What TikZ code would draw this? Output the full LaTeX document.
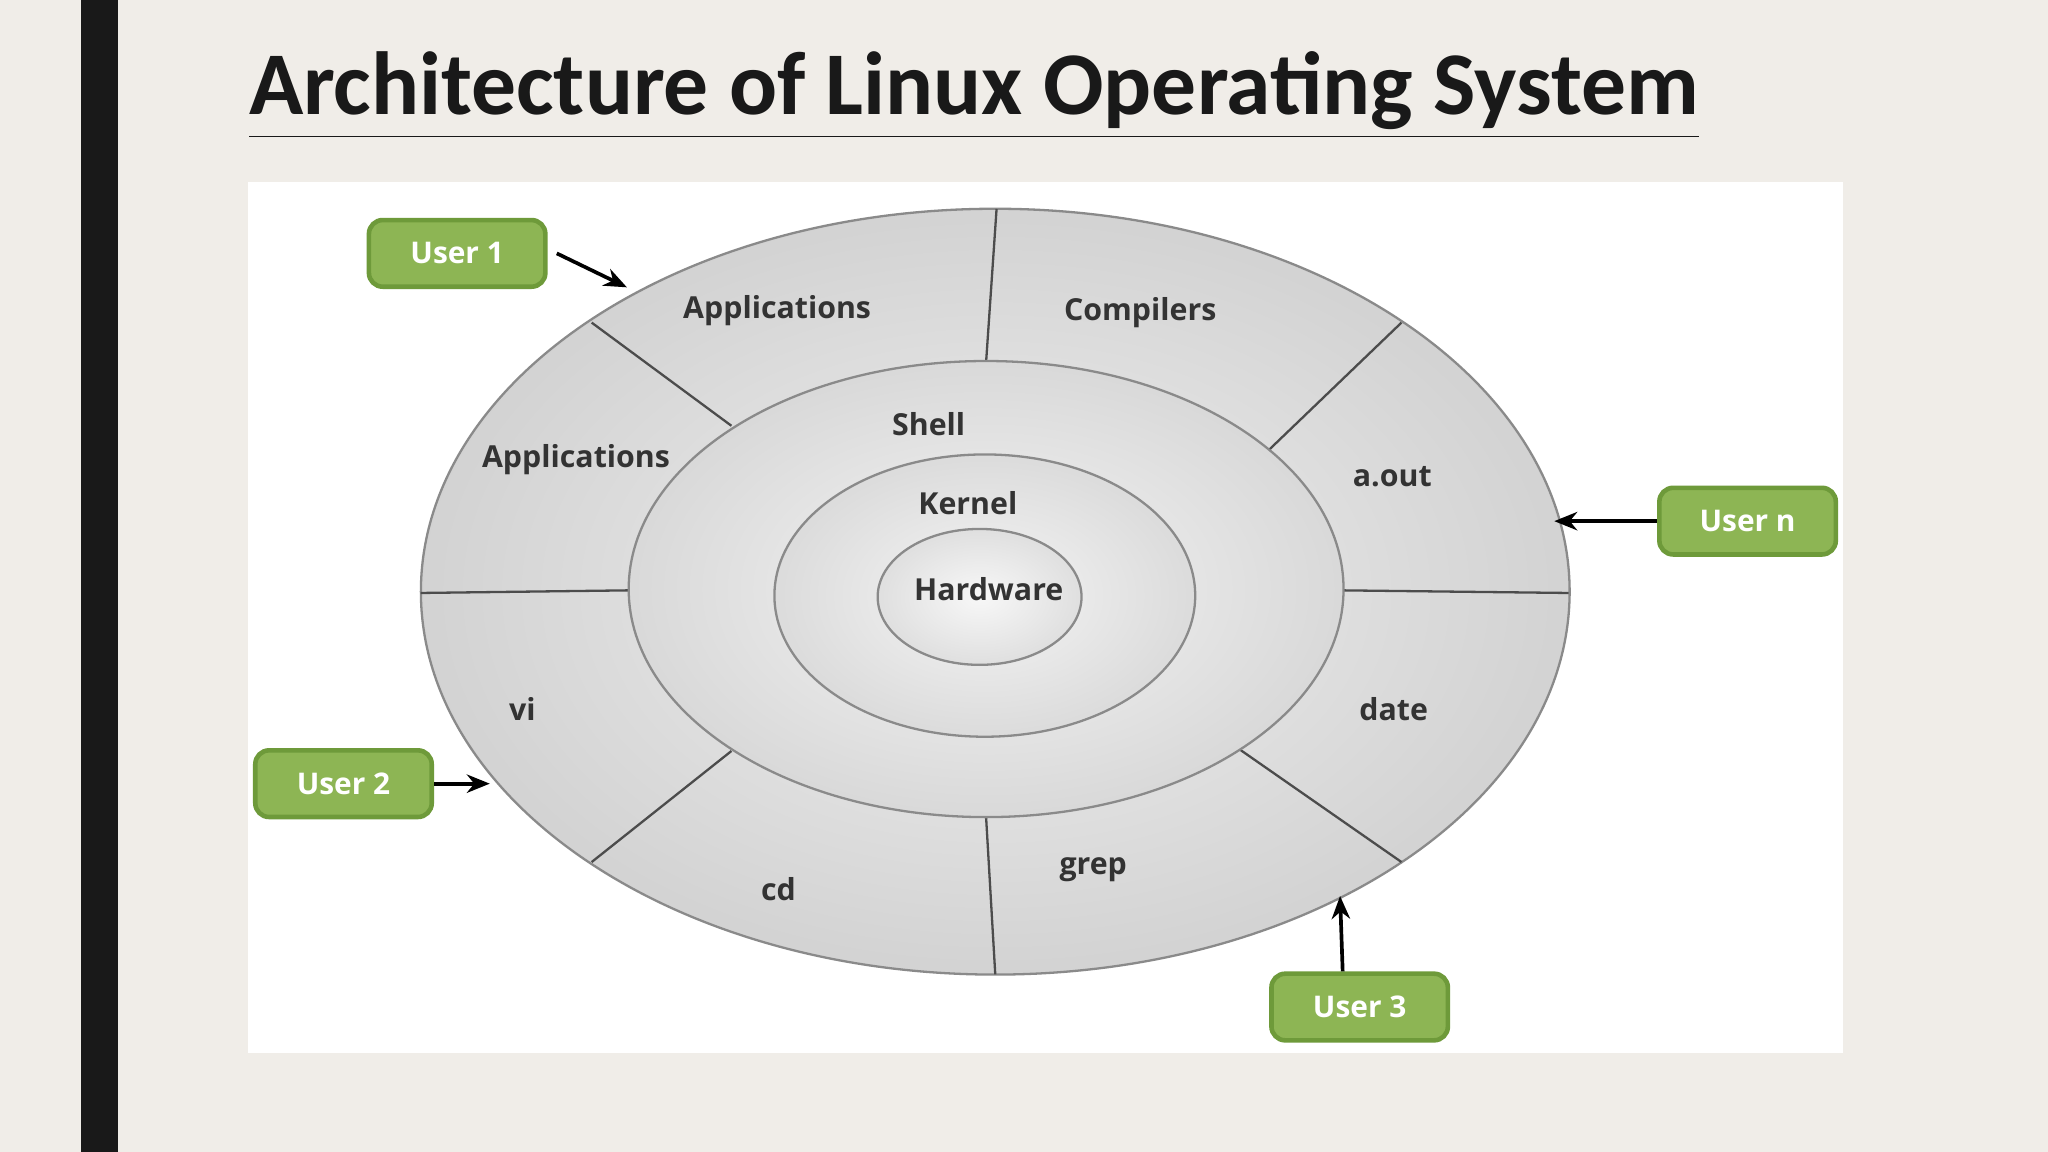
\documentclass[tikz,border=0pt]{standalone}
\usepackage{fontspec}
\setmainfont{Open Sans}
\newfontfamily\titlefont{Carlito}
\usetikzlibrary{shapes.geometric,arrows.meta}
\definecolor{bgc}{HTML}{F0EDE8}
\definecolor{ugreen}{HTML}{8DB554}
\definecolor{ugreenb}{HTML}{6E9A3A}
\definecolor{ringline}{HTML}{8A8A8A}
\tikzset{
  ring/.style={ellipse,draw=ringline,line width=0.5pt,inner sep=0pt},
  lab/.style={font=\fontsize{6.6}{8}\selectfont\bfseries,text=black!80},
  user/.style={rounded corners=3pt,fill=ugreen,draw=ugreenb,line width=1pt,text=white,font=\fontsize{6.5}{8}\selectfont\bfseries,minimum width=1.35cm,minimum height=0.51cm},
  uarr/.style={-{Stealth[length=5pt,width=4pt]},line width=0.8pt},
  div/.style={draw=black!70,line width=0.5pt}
}
\begin{document}
\begin{tikzpicture}[x=0.01cm,y=-0.01cm]
\fill[bgc] (0,0) rectangle (1568,882);
\useasboundingbox (0,0) rectangle (1568,882);
\fill[black!90] (62,0) rectangle (90,882);
\node[anchor=base west,inner sep=0,font=\titlefont\fontsize{19.5}{22}\selectfont\bfseries,text=black!90] (title) at (190,88) {\underline{Architecture of Linux Operating System}};
\fill[white] (190,139) rectangle (1411,806);
\node[ring,minimum width=8.79cm,minimum height=5.86cm,shade,inner color=gray!12,outer color=gray!35] (outer) at (762,453) {};
\draw[div] (763,160) -- (755,277);
\draw[div] (453,247) -- (560,326);
\draw[div] (972,344) -- (1073,247);
\draw[div] (322,454) -- (481,452);
\draw[div] (1028,452) -- (1201,454);
\draw[div] (453,660) -- (560,575);
\draw[div] (948,573) -- (1073,660);
\draw[div] (755,626) -- (762,746);
\node[ring,minimum width=5.47cm,minimum height=3.49cm,shade,inner color=gray!8,outer color=gray!30] (shell) at (755,451) {};
\node[ring,minimum width=3.22cm,minimum height=2.16cm,shade,inner color=gray!8,outer color=gray!28] (kernel) at (754,456) {};
\node[ring,minimum width=1.56cm,minimum height=1.04cm,shade,inner color=gray!6,outer color=gray!25] (hw) at (750,457) {};
\node[lab] (l1) at (595,238) {Applications};
\node[lab] (l2) at (873,239) {Compilers};
\node[lab] (l3) at (441,352) {Applications};
\node[lab] (l4) at (1066,365) {a.out};
\node[lab] (l5) at (400,543) {vi};
\node[lab] (l6) at (1067,543) {date};
\node[lab] (l7) at (596,681) {cd};
\node[lab] (l8) at (837,666) {grep};
\node[lab] (sh) at (711,325) {Shell};
\node[lab] (kn) at (741,385) {Kernel};
\node[lab] (hwl) at (757,451) {Hardware};
\node[user] (u1) at (350,194) {User 1};
\node[user] (u2) at (263,600) {User 2};
\node[user] (un) at (1338,399) {User n};
\node[user] (u3) at (1041,771) {User 3};
\coordinate (t1) at (480,220);
\coordinate (t2) at (375,600);
\coordinate (tn) at (1190,399);
\coordinate (t3) at (1026,686);
\draw[uarr] ([xshift=0.07cm]u1.east) -- (t1);
\draw[uarr] (u2.east) -- (t2);
\draw[uarr] (un.west) -- (tn);
\draw[uarr] ([xshift=-0.13cm]u3.north) -- (t3);
\end{tikzpicture}
\end{document}
